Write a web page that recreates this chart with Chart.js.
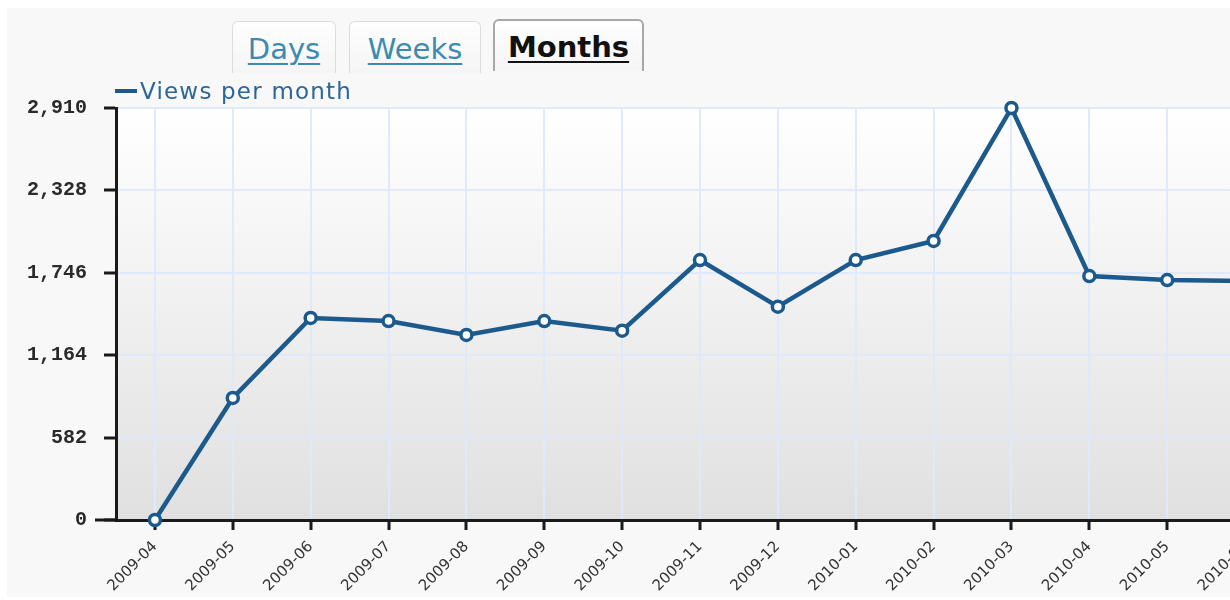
<!DOCTYPE html>
<html>
<head>
<meta charset="utf-8">
<script src="https://cdn.jsdelivr.net/npm/chart.js@4.4.0/dist/chart.umd.min.js"></script>
<style>
  html, body { margin: 0; padding: 0; background: #fff; overflow: hidden; width: 1230px; height: 600px; }
  .page { position: absolute; left: 7px; top: 8px; width: 1300px; height: 589px; background: #f8f8f8; }
  .tab { position: absolute; box-sizing: border-box; height: 52px; border: 1px solid #dcdcdc; border-bottom: none;
         border-radius: 6px 6px 0 0; background: linear-gradient(#fefefe, #f5f5f5);
         font-family: "DejaVu Sans", Verdana, sans-serif; font-size: 29px; text-align: center; line-height: 54px; }
  .tab span { text-decoration: underline; text-underline-offset: 4px; text-decoration-thickness: 2px; color: #3b8ab3; }
  .tab.on { border: 2px solid #a8a8a8; border-bottom: none; line-height: 52px; }
  .tab.on span { color: #111; font-weight: 600; }
  .legend { position: absolute; left: 115px; top: 78px; z-index: 2; color: #2a6699;
            font-family: "DejaVu Sans", Verdana, sans-serif; font-size: 23px; letter-spacing: 1.2px; white-space: nowrap; }
  .legend i { display: inline-block; width: 22px; height: 4px; background: #1c5a8d; vertical-align: 6px; margin-right: 3px; }
  #chart { position: absolute; left: 0; top: 79px; }
</style>
</head>
<body>
<div class="page"></div>
<div class="tab" style="left:232px; top:21px; width:104px;"><span>Days</span></div>
<div class="tab" style="left:349px; top:21px; width:132px;"><span>Weeks</span></div>
<div class="tab on" style="left:493px; top:19px; width:151px;"><span>Months</span></div>
<div class="legend" id="legend"></div>
<canvas id="chart" width="1293" height="516"></canvas>
<script>
// monthly views
const months = ['2009-04', '2009-05', '2009-06', '2009-07', '2009-08', '2009-09', '2009-10', '2009-11',
                '2009-12', '2010-01', '2010-02', '2010-03', '2010-04', '2010-05', '2010-06'];
const views = [0, 862, 1427, 1405, 1307, 1405, 1337, 1836, 1507, 1836, 1971, 2910, 1723, 1695, 1688];
const seriesName = 'Views per month';
const yMax = 2910;
const yStep = 582;

const lineColor = '#1c5a8d';
const gridColor = 'rgba(222,233,252,0.95)';
const axisColor = '#1a1a1a';

document.getElementById('legend').innerHTML = '<i></i>' + seriesName;

// plot area gradient, white at top to light grey at bottom
const plotBg = {
    id: 'plotBg',
    beforeDraw(chart) {
        const a = chart.chartArea; const ctx = chart.ctx;
        const g = ctx.createLinearGradient(0, a.top, 0, a.bottom);
        g.addColorStop(0, '#ffffff'); g.addColorStop(1, '#e0e0e0');
        ctx.save(); ctx.fillStyle = g; ctx.fillRect(a.left, a.top, a.right - a.left, a.bottom - a.top); ctx.restore();
    },
    // the zero tick on the value axis is drawn longer, running into the category axis
    afterDraw(chart) {
        const ctx = chart.ctx; const y0 = chart.scales.y.getPixelForValue(0); const l = chart.chartArea.left;
        ctx.save(); ctx.strokeStyle = axisColor; ctx.lineWidth = 3;
        ctx.beginPath(); ctx.moveTo(l - 21, y0); ctx.lineTo(l, y0); ctx.stroke(); ctx.restore();
    }
};

new Chart(document.getElementById('chart'), {
    type: 'line',
    data: {
        labels: months,
        datasets: [{
            label: seriesName, data: views, clip: false,
            borderColor: lineColor, borderWidth: 4.5, tension: 0,
            pointRadius: 5.5, pointBorderWidth: 3.5, pointBackgroundColor: '#fff', pointBorderColor: lineColor
        }]
    },
    options: {
        responsive: false, animation: false,
        layout: { padding: { top: 20, left: 0, right: 0, bottom: 0 } },
        plugins: { legend: { display: false }, tooltip: { enabled: false } },
        scales: {
            x: {
                offset: true,
                grid: { offset: false, color: gridColor, lineWidth: 2, tickColor: axisColor, tickWidth: 3, tickLength: 10 },
                border: { color: axisColor, width: 3 },
                ticks: { minRotation: 45, maxRotation: 45, padding: 8, color: '#333', font: { family: 'DejaVu Sans', size: 15 } },
                afterFit: s => { s.height = 75; }
            },
            y: {
                min: 0, max: yMax,
                grid: { color: gridColor, lineWidth: 2, tickColor: axisColor, tickWidth: 3, tickLength: 12 },
                border: { color: axisColor, width: 3 },
                ticks: { stepSize: yStep, padding: 17, color: '#2a2a2a',
                         font: { family: 'Liberation Mono', size: 20, weight: 'bold' },
                         callback: v => v.toLocaleString('en-US') },
                afterFit: s => { s.width = 116; }
            }
        }
    },
    plugins: [plotBg]
});
</script>
</body>
</html>
